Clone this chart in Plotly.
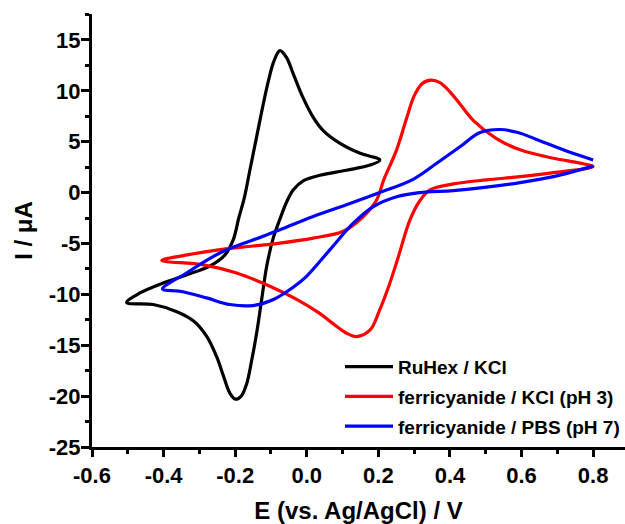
import plotly.graph_objects as go

# RuHex / KCl
ru_E = [-0.503, -0.466, -0.401, -0.335, -0.270, -0.228, -0.205, -0.190, -0.175, -0.159, -0.140, -0.121,
        -0.107, -0.092, -0.075, -0.057, -0.038, -0.014, 0.018, 0.046, 0.093, 0.149, 0.204,
        0.177, 0.111, 0.037, -0.010, -0.038, -0.056, -0.075, -0.094, -0.112, -0.126, -0.140,
        -0.154, -0.168, -0.183, -0.199, -0.215, -0.233, -0.252, -0.280, -0.317, -0.363, -0.429, -0.503]
ru_I = [-10.8, -9.86, -8.88, -8.07, -7.2, -6.1, -4.6, -2.5, -0.6, 2.2, 5.5, 8.8,
        11.0, 12.9, 13.95, 13.3, 11.7, 9.6, 7.4, 6.1, 4.84, 3.86, 3.2,
        2.7, 2.2, 1.7, 1.15, 0.26, -0.9, -2.6, -4.5, -7.25, -10.5, -13.8,
        -16.5, -18.8, -20.0, -20.3, -19.7, -18.0, -16.1, -14.1, -12.6, -11.7, -11.0, -10.8]

# ferricyanide / KCl (pH 3)
fk_E = [-0.405, -0.330, -0.242, -0.150, -0.075, 0.018, 0.102, 0.158, 0.195, 0.215, 0.251, 0.278,
        0.300, 0.322, 0.347, 0.372, 0.400, 0.428, 0.465, 0.530, 0.596, 0.689, 0.763, 0.800,
        0.689, 0.596, 0.502, 0.409, 0.344, 0.316, 0.288, 0.255, 0.230, 0.204, 0.177, 0.139,
        0.110, 0.074, 0.037, -0.028, -0.103, -0.196, -0.289, -0.405]
fk_I = [-6.67, -6.1, -5.6, -5.25, -4.96, -4.47, -3.8, -2.35, -0.72, 1.25, 4.2, 7.2,
        9.5, 10.7, 11.05, 10.8, 9.9, 8.7, 7.1, 5.3, 4.2, 3.37, 2.9, 2.55,
        1.96, 1.57, 1.25, 0.85, 0.26, -0.8, -2.7, -6.4, -9.1, -11.5, -13.5, -14.15,
        -13.8, -12.9, -11.9, -10.5, -9.2, -7.9, -7.1, -6.67]

# ferricyanide / PBS (pH 7)
fp_E = [0.800, 0.689, 0.596, 0.502, 0.409, 0.316, 0.251, 0.186, 0.130, 0.065, 0.000, -0.038,
        -0.093, -0.151, -0.215, -0.280, -0.354, -0.403,
        -0.336, -0.243, -0.149, -0.075, 0.018, 0.111, 0.204, 0.297, 0.363, 0.428, 0.484,
        0.540, 0.590, 0.640, 0.720, 0.800]
fp_I = [2.6, 1.57, 0.98, 0.53, 0.2, 0.0, -0.4, -1.37, -3.0, -5.6, -8.2, -9.3,
        -10.5, -11.1, -11.0, -10.35, -9.7, -9.47,
        -7.9, -5.94, -4.64, -3.66, -2.35, -1.2, 0.0, 1.3, 2.88, 4.5, 5.9,
        6.2, 5.9, 5.25, 4.15, 3.2]

x_ticks = [-0.6, -0.4, -0.2, 0.0, 0.2, 0.4, 0.6, 0.8]
x_labels = ["-0.6", "-0.4", "-0.2", "0.0", "0.2", "0.4", "0.6", "0.8"]
y_ticks = [-25, -20, -15, -10, -5, 0, 5, 10, 15]
y_labels = ["-25", "-20", "-15", "-10", "-5", "0", "5", "10", "15"]

FONT = "Liberation Sans, Arial, sans-serif"

fig = go.Figure()
for E, I, name, color in [(ru_E, ru_I, "RuHex / KCl", "#000000"),
                          (fk_E, fk_I, "ferricyanide / KCl (pH 3)", "#ff0000"),
                          (fp_E, fp_I, "ferricyanide / PBS (pH 7)", "#0000ff")]:
    fig.add_trace(go.Scatter(x=E, y=I, mode="lines", name=name, legendgroup=name,
                             line=dict(color=color, width=3.2, shape="spline", smoothing=1.0)))

axis_common = dict(showline=True, linecolor="black", linewidth=3, ticks="outside",
                   tickwidth=2.5, tickcolor="black", showgrid=False, zeroline=False,
                   tickfont=dict(family=FONT, size=22, color="black", weight="bold"))

fig.update_xaxes(range=[-0.6, 0.889], tickvals=x_ticks, ticktext=x_labels, ticklen=7,
                 minor=dict(dtick=0.1, tick0=0, ticks="outside", ticklen=4, tickwidth=2.5, tickcolor="black"),
                 title=dict(text="E (vs. Ag/AgCl) / V", font=dict(family=FONT, size=24, color="black", weight="bold"),
                            standoff=16),
                 **axis_common)
fig.update_yaxes(range=[-25, 17.55], tickvals=y_ticks, ticktext=y_labels, ticklen=8,
                 ticklabelstandoff=-4,
                 minor=dict(dtick=2.5, tick0=0, ticks="outside", ticklen=4, tickwidth=2.5, tickcolor="black"),
                 title=dict(text="I / μA", font=dict(family=FONT, size=24, color="black", weight="bold"),
                            standoff=10),
                 **axis_common)

fig.update_layout(
    width=625, height=524,
    margin=dict(l=92, r=0, t=14, b=77),
    plot_bgcolor="white", paper_bgcolor="white",
    legend=dict(x=1.0, y=0.229, xanchor="right", yanchor="top",
                font=dict(family=FONT, size=19, color="black", weight="bold"),
                bgcolor="rgba(0,0,0,0)", tracegroupgap=2, itemwidth=48, traceorder="grouped"),
    showlegend=True,
)

fig.write_html("out.html")
